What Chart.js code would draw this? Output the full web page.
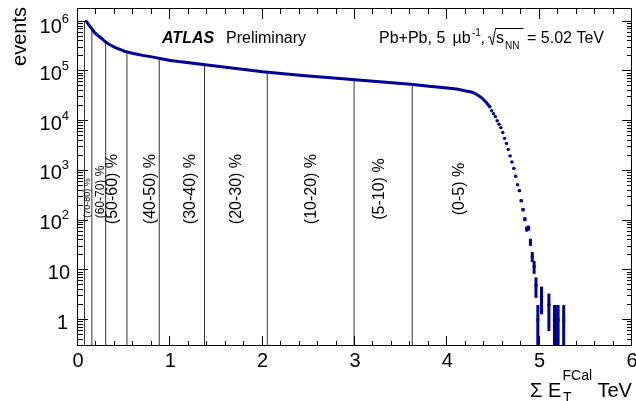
<!DOCTYPE html>
<html>
<head>
<meta charset="utf-8">
<script src="https://cdn.jsdelivr.net/npm/chart.js@4"></script>
<style>
html, body { margin: 0; padding: 0; background: #fff; }
canvas { display: block; }
</style>
</head>
<body>
<canvas id="c" width="636" height="401"></canvas>
<script>
// FCal sum ET distribution, bulk part (points are so dense they form a line)
const bulkX = [0.09, 0.11, 0.13, 0.15, 0.18, 0.21, 0.25, 0.30, 0.35, 0.40, 0.50, 0.60, 0.70, 0.80, 0.90,
               1.00, 1.20, 1.40, 1.60, 1.80, 2.00, 2.20, 2.40, 2.60, 2.80, 3.00, 3.20, 3.40, 3.60, 3.80,
               4.00, 4.10, 4.20, 4.26, 4.30, 4.34, 4.38, 4.42, 4.44, 4.46];
const bulkY = [1.02e6, 9.0e5, 8.0e5, 7.2e5, 6.0e5, 5.4e5, 4.7e5, 3.9e5, 3.4e5, 3.05e5, 2.55e5, 2.3e5, 2.1e5, 1.96e5, 1.8e5,
               1.66e5, 1.49e5, 1.35e5, 1.21e5, 1.09e5, 9.8e4, 9.1e4, 8.4e4, 7.85e4, 7.3e4, 6.8e4, 6.35e4, 5.9e4, 5.5e4, 5.05e4,
               4.65e4, 4.43e4, 4.05e4, 3.85e4, 3.6e4, 3.25e4, 2.85e4, 2.4e4, 2.15e4, 1.95e4];

// steep edge and tail, single bins with stat. errors
const tailX = [4.46, 4.48, 4.50, 4.52, 4.54, 4.56, 4.58, 4.60, 4.62, 4.64, 4.66, 4.68, 4.70, 4.72, 4.74, 4.76,
               4.78, 4.80, 4.82, 4.84, 4.86, 4.88, 4.90, 4.92, 4.94, 4.96, 4.98, 5.02, 5.10, 5.16, 5.18, 5.20, 5.26];
const tailY = [19500, 16200, 14100, 12300, 10200, 8700, 7400, 5900, 4500, 3550, 2700, 2000, 1510, 1120, 780, 525,
               400, 251, 166, 107, 68, 71, 37, 19, 12, 5, 1, 3, 2, 1, 1, 1, 1];
const tailErr = [140, 127, 119, 111, 101, 93, 86, 77, 67, 60, 52, 45, 39, 33, 28, 23,
                 20, 16, 13, 10, 8.2, 8.4, 6.1, 4.4, 3.5, 2.2, 1, 1.7, 1.4, 1, 1, 1, 1];

// centrality bin edges (TeV) and the height where each edge meets the curve
const edgeX = [0.07, 0.15, 0.30, 0.53, 0.88, 1.37, 2.05, 2.99, 3.62];
const edgeTop = [1.0e6, 7.2e5, 3.9e5, 2.47e5, 1.83e5, 1.37e5, 9.6e4, 6.8e4, 5.45e4];
const binNames = ['(70-80) %', '(60-70) %', '(50-60) %', '(40-50) %', '(30-40) %', '(20-30) %', '(10-20) %', '(5-10) %', '(0-5) %'];

const xTicks = [0, 1, 2, 3, 4, 5, 6];
const yTicks = [1, 10, 100, 1e3, 1e4, 1e5, 1e6];

const NAVY = '#000096';
const FONT = '"Liberation Sans", Arial, sans-serif';

// where the bin names sit (data coords) and how big they are
const nameX = [0.108, 0.248, 0.377, 0.783, 1.218, 1.713, 2.535, 3.262, 4.135];
const nameY = [284, 375, 430, 430, 430, 430, 430, 430, 430];
const nameSize = [9, 12, 16, 16, 16, 16, 16, 16, 16];

const datasets = [
  { data: bulkX.map((x, i) => ({ x: x, y: bulkY[i] })), borderColor: NAVY, borderWidth: 3,
    pointRadius: 0, borderJoinStyle: 'round', borderCapStyle: 'round' },
  { data: tailX.map((x, i) => ({ x: x, y: tailY[i] })), showLine: false, pointRadius: 1.7,
    pointBackgroundColor: NAVY, pointBorderWidth: 0 }
];
edgeX.forEach((e, i) => {
  datasets.push({ data: [{ x: e, y: 0.3 }, { x: e, y: edgeTop[i] }], borderColor: '#333',
                  borderWidth: 1, pointRadius: 0 });
});

function sup(ctx, base, exp, xRight, yBase, big, small) {
  ctx.font = big + 'px ' + FONT;
  const wb = ctx.measureText(base).width;
  ctx.font = small + 'px ' + FONT;
  const we = exp ? ctx.measureText(exp).width : 0;
  ctx.font = big + 'px ' + FONT;
  ctx.textAlign = 'left';
  ctx.fillText(base, xRight - wb - we, yBase);
  if (exp) {
    ctx.font = small + 'px ' + FONT;
    ctx.fillText(exp, xRight - we, yBase - 10);
  }
}

const decor = {
  id: 'decor',
  afterDatasetsDraw(chart) {
    const { ctx, chartArea: a, scales: { x, y } } = chart;
    ctx.save();
    // error bars on the tail
    const meta = chart.getDatasetMeta(1);
    ctx.strokeStyle = NAVY;
    ctx.lineWidth = 3;
    meta.data.forEach((pt, i) => {
      const hi = y.getPixelForValue(tailY[i] + tailErr[i]);
      const lo = tailY[i] - tailErr[i] > 0 ? Math.min(y.getPixelForValue(tailY[i] - tailErr[i]), a.bottom) : a.bottom;
      ctx.beginPath();
      ctx.moveTo(pt.x, Math.max(hi, a.top));
      ctx.lineTo(pt.x, lo);
      ctx.stroke();
    });
    ctx.restore();
  },
  afterDraw(chart) {
    const { ctx, chartArea: a, scales: { x, y } } = chart;
    ctx.save();
    ctx.strokeStyle = '#000';
    ctx.fillStyle = '#000';
    ctx.lineWidth = 1;
    ctx.strokeRect(a.left - 0.5, a.top - 0.5, a.right - a.left, a.bottom - a.top);

    // x ticks, all four sides in ROOT style
    ctx.beginPath();
    for (let i = 0; i <= 30; i++) {
      const px = Math.round(x.getPixelForValue(i * 0.2)) - 0.5;
      const len = i % 5 === 0 ? 10 : 5;
      ctx.moveTo(px, a.bottom); ctx.lineTo(px, a.bottom - len);
      ctx.moveTo(px, a.top); ctx.lineTo(px, a.top + len);
    }
    for (let d = -1; d <= 6; d++) {
      for (let m = 1; m <= 9; m++) {
        const v = m * Math.pow(10, d);
        if (v < y.min || v > y.max) continue;
        const py = Math.round(y.getPixelForValue(v)) - 0.5;
        const len = m === 1 ? 10 : 5;
        ctx.moveTo(a.left, py); ctx.lineTo(a.left + len, py);
        ctx.moveTo(a.right, py); ctx.lineTo(a.right - len, py);
      }
    }
    ctx.stroke();

    // tick labels
    ctx.font = '20px ' + FONT;
    ctx.textAlign = 'center';
    ctx.textBaseline = 'alphabetic';
    xTicks.forEach(v => ctx.fillText(String(v), x.getPixelForValue(v), 366.5));
    yTicks.forEach(v => {
      const py = y.getPixelForValue(v);
      const e = Math.round(Math.log10(v));
      if (e === 0) sup(ctx, '1', '', 68, py + 8.5, 20, 13);
      else if (e === 1) sup(ctx, '10', '', 70, py + 8.5, 20, 13);
      else sup(ctx, '10', String(e), 69, py + (e === 6 ? 11.5 : 8.5), 20, 13);
    });

    // axis titles
    ctx.save();
    ctx.translate(25.5, 7);
    ctx.rotate(-Math.PI / 2);
    ctx.font = '20px ' + FONT;
    ctx.textAlign = 'right';
    ctx.fillText('events', 0, 0);
    ctx.restore();

    ctx.textAlign = 'left';
    ctx.font = '20px ' + FONT;
    ctx.fillText('\u03A3 E', 530, 397);
    ctx.font = '14px ' + FONT;
    ctx.fillText('FCal', 562.5, 380);
    ctx.fillText('T', 563, 402);
    ctx.font = '20px ' + FONT;
    ctx.fillText('TeV', 597.5, 397);

    // centrality bin names
    binNames.forEach((s, i) => {
      ctx.save();
      ctx.translate(x.getPixelForValue(nameX[i]), y.getPixelForValue(nameY[i]));
      ctx.rotate(-Math.PI / 2);
      ctx.font = nameSize[i] + 'px ' + FONT;
      ctx.textAlign = 'center';
      ctx.textBaseline = 'middle';
      ctx.fillText(s, 0, 0);
      ctx.restore();
    });

    // labels at the top
    ctx.textBaseline = 'alphabetic';
    ctx.textAlign = 'left';
    ctx.font = 'italic bold 16px ' + FONT;
    ctx.fillText('ATLAS', 162, 43.3);
    ctx.font = '16px ' + FONT;
    ctx.fillText('Preliminary', 226, 43.3);

    ctx.fillText('Pb+Pb, 5', 379, 43.3);
    ctx.fillText('\u00B5b', 452.5, 43.3);
    ctx.fillText(',', 480.5, 43.3);
    ctx.fillText('s', 496, 43.3);
    ctx.fillText('= 5.02 TeV', 527, 43.3);
    ctx.font = '10px ' + FONT;
    ctx.fillText('-1', 472, 35.5);
    ctx.fillText('NN', 505, 48.5);
    // square root sign
    ctx.beginPath();
    ctx.lineWidth = 1;
    ctx.moveTo(488, 37.5);
    ctx.lineTo(490, 36.5);
    ctx.lineTo(492.5, 45);
    ctx.lineTo(495.5, 28.5);
    ctx.lineTo(523.5, 28.5);
    ctx.stroke();
    ctx.restore();
  }
};

new Chart(document.getElementById('c').getContext('2d'), {
  type: 'line',
  data: { datasets: datasets },
  options: {
    responsive: false,
    animation: false,
    devicePixelRatio: 1,
    layout: { padding: { left: 78, right: 1, top: 9, bottom: 55 } },
    plugins: { legend: { display: false }, tooltip: { enabled: false } },
    scales: {
      x: { type: 'linear', min: 0, max: 6, display: false },
      y: { type: 'logarithmic', min: 0.3, max: 1.8e6, display: false }
    }
  },
  plugins: [decor]
});
</script>
</body>
</html>
